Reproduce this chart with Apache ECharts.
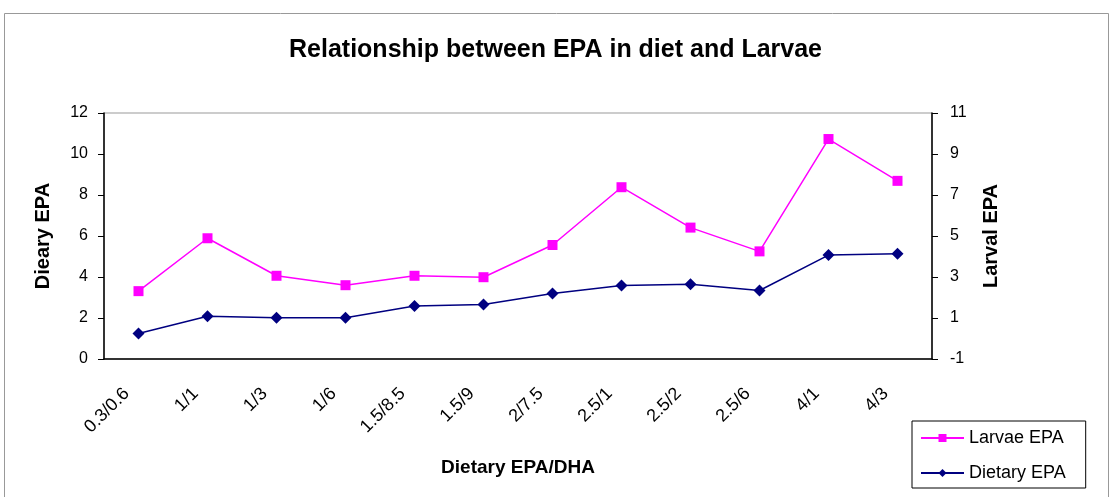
<!DOCTYPE html>
<html>
<head>
<meta charset="utf-8">
<script src="https://cdn.jsdelivr.net/npm/echarts@6/dist/echarts.min.js"></script>
<style>
  html, body { margin: 0; padding: 0; background: #fff; }
  #chart { width: 1111px; height: 497px; }
</style>
</head>
<body>
<div id="chart"></div>
<script>
// 类别与数据
const categories = ['0.3/0.6', '1/1', '1/3', '1/6', '1.5/8.5', '1.5/9', '2/7.5', '2.5/1', '2.5/2', '2.5/6', '4/1', '4/3']
const larvaeEPA = [2.31, 4.89, 3.06, 2.6, 3.06, 2.99, 4.56, 7.38, 5.41, 4.25, 9.73, 7.69]
const dietaryEPA = [1.24, 2.09, 2.01, 2.01, 2.58, 2.66, 3.2, 3.59, 3.65, 3.34, 5.07, 5.13]

const font = 'Arial, "Liberation Sans", sans-serif'
const chart = echarts.init(document.getElementById('chart'))

chart.setOption({
  animation: false,
  backgroundColor: '#fff',
  textStyle: { fontFamily: font },
  title: {
    text: 'Relationship between EPA in diet and Larvae',
    left: 'center',
    top: 33,
    textStyle: { fontSize: 25, fontWeight: 'bold', color: '#000', fontFamily: font }
  },
  graphic: [{
    type: 'rect',
    shape: { x: 4.5, y: 13.5, width: 1104, height: 500 },
    style: { fill: 'none', stroke: '#999', lineWidth: 1 },
    silent: true
  }],
  legend: {
    orient: 'vertical',
    left: 912,
    top: 421,
    padding: [8, 20, 6, 8],
    itemGap: 17,
    itemWidth: 43,
    itemHeight: 10,
    borderColor: '#000',
    borderWidth: 1,
    backgroundColor: '#fff',
    textStyle: { fontSize: 18, color: '#000', fontFamily: font },
    data: ['Larvae EPA', 'Dietary EPA']
  },
  grid: {
    left: 104,
    right: 179,
    top: 113,
    bottom: 138,
    show: true,
    borderColor: '#999',
    borderWidth: 1
  },
  xAxis: {
    type: 'category',
    data: categories,
    name: 'Dietary EPA/DHA',
    nameLocation: 'middle',
    nameGap: 99,
    nameTextStyle: { fontSize: 19, fontWeight: 'bold', color: '#000' },
    axisLine: { lineStyle: { color: '#000', width: 1.5 } },
    axisTick: { length: 7, lineStyle: { color: '#000' } },
    axisLabel: { rotate: 45, fontSize: 18, color: '#000', margin: 20, padding: [0, 17, 0, 0] },
    splitLine: { show: false }
  },
  yAxis: [
    {
      type: 'value',
      min: 0,
      max: 12,
      interval: 2,
      name: 'Dieary EPA',
      nameLocation: 'middle',
      nameGap: 51,
      nameTextStyle: { fontSize: 20, fontWeight: 'bold', color: '#000' },
      axisLine: { show: true, lineStyle: { color: '#000', width: 1.5 } },
      axisTick: { show: true, length: 6, lineStyle: { color: '#000' } },
      axisLabel: { fontSize: 16, color: '#000', margin: 16 },
      splitLine: { show: false }
    },
    {
      type: 'value',
      min: -1,
      max: 11,
      interval: 2,
      position: 'right',
      name: 'Larval EPA',
      nameLocation: 'middle',
      nameGap: 49,
      nameRotate: 90,
      nameTextStyle: { fontSize: 20, fontWeight: 'bold', color: '#000' },
      axisLine: { show: true, lineStyle: { color: '#000', width: 1.5 } },
      axisTick: { show: true, length: 6, lineStyle: { color: '#000' } },
      axisLabel: { fontSize: 16, color: '#000', margin: 18 },
      splitLine: { show: false }
    }
  ],
  series: [
    {
      name: 'Larvae EPA',
      type: 'line',
      yAxisIndex: 1,
      data: larvaeEPA,
      symbol: 'rect',
      symbolSize: 10,
      itemStyle: { color: '#ff00ff' },
      lineStyle: { color: '#ff00ff', width: 1.5 }
    },
    {
      name: 'Dietary EPA',
      type: 'line',
      yAxisIndex: 0,
      data: dietaryEPA,
      symbol: 'diamond',
      symbolSize: 12,
      itemStyle: { color: '#000080' },
      lineStyle: { color: '#000080', width: 1.5 }
    }
  ]
})
</script>
</body>
</html>
